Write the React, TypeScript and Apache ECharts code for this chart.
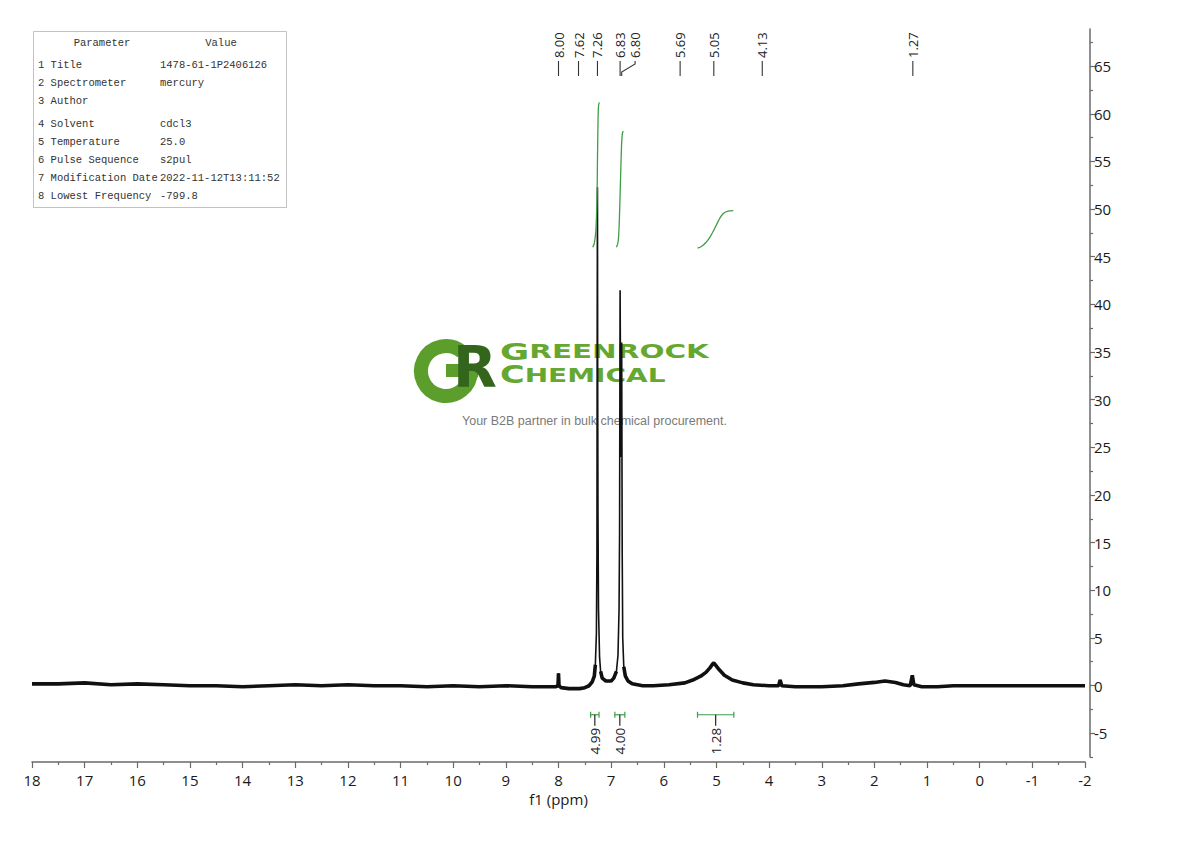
import React, { useEffect, useRef } from "react";
import * as echarts from "echarts";

// ---------- data ----------
const paramNames = [
  "Title",
  "Spectrometer",
  "Author",
  "Solvent",
  "Temperature",
  "Pulse Sequence",
  "Modification Date",
  "Lowest Frequency",
];
const paramValues = [
  "1478-61-1P2406126",
  "mercury",
  "",
  "cdcl3",
  "25.0",
  "s2pul",
  "2022-11-12T13:11:52",
  "-799.8",
];

const peakLabels = [8.0, 7.62, 7.26, 6.83, 6.8, 5.69, 5.05, 4.13, 1.27];

const integralRanges: [number, number][] = [
  [7.39, 7.23],
  [6.93, 6.74],
  [5.36, 4.67],
];
const integralValues = [4.99, 4.0, 1.28];

const integralCurve1: [number, number][] = [
  [7.35, 46.0], [7.32, 46.4], [7.29, 47.8], [7.27, 50.8], [7.26, 55.0],
  [7.25, 59.0], [7.24, 60.8], [7.225, 61.2],
];
const integralCurve2: [number, number][] = [
  [6.9, 46.0], [6.87, 46.5], [6.85, 48.0], [6.83, 51.5], [6.815, 54.5],
  [6.8, 57.0], [6.785, 58.0], [6.77, 58.2],
];
const integralCurve3: [number, number][] = [
  [5.36, 45.9], [5.28, 46.1], [5.2, 46.5], [5.12, 47.1], [5.04, 47.9],
  [4.96, 48.8], [4.88, 49.5], [4.78, 49.8], [4.68, 49.85],
];

// [ppm, intensity]
const spectrum: [number, number][] = [
  [18.0, 0.2], [17.5, 0.2], [17.0, 0.3], [16.5, 0.1], [16.0, 0.2], [15.5, 0.1],
  [15.0, 0.0], [14.5, 0.0], [14.0, -0.1], [13.5, 0.0], [13.0, 0.1], [12.5, 0.0],
  [12.0, 0.1], [11.5, 0.0], [11.0, 0.0], [10.5, -0.1], [10.0, 0.0], [9.5, -0.1],
  [9.0, 0.0], [8.5, -0.1], [8.05, -0.1], [8.01, 0.0], [8.0, 1.3], [7.99, 0.0],
  [7.95, -0.2], [7.8, -0.3], [7.6, -0.3], [7.5, -0.2], [7.42, 0.0], [7.36, 0.4],
  [7.32, 1.0], [7.3, 2.2], [7.28, 5.5], [7.27, 14.0], [7.265, 38.0], [7.26, 52.3],
  [7.255, 30.0], [7.25, 18.0], [7.24, 8.0], [7.22, 3.0], [7.2, 1.5], [7.17, 0.8],
  [7.1, 0.5], [7.0, 0.5], [6.95, 0.8], [6.9, 1.5], [6.87, 3.2], [6.85, 8.0],
  [6.84, 16.0], [6.83, 41.5], [6.815, 24.0], [6.8, 36.0], [6.79, 14.0], [6.78, 5.0],
  [6.76, 2.0], [6.73, 1.0], [6.68, 0.5], [6.6, 0.2], [6.4, 0.0], [6.2, 0.0],
  [5.9, 0.1], [5.6, 0.3], [5.45, 0.6], [5.3, 1.0], [5.2, 1.4], [5.12, 1.9],
  [5.07, 2.3], [5.05, 2.4], [5.02, 2.2], [4.95, 1.7], [4.85, 1.1], [4.7, 0.6],
  [4.5, 0.3], [4.3, 0.1], [4.0, 0.0], [3.82, 0.0], [3.79, 0.6], [3.76, 0.0],
  [3.5, -0.1], [3.0, -0.1], [2.6, 0.0], [2.3, 0.2], [2.0, 0.35], [1.8, 0.5],
  [1.6, 0.35], [1.45, 0.1], [1.32, 0.0], [1.28, 1.1], [1.25, 0.1], [1.1, -0.1],
  [0.8, -0.1], [0.5, 0.0], [0.0, 0.0], [-0.5, 0.0], [-1.0, 0.0], [-1.5, 0.0],
  [-2.0, 0.0],
];

const yTickValues = [-5, 0, 5, 10, 15, 20, 25, 30, 35, 40, 45, 50, 55, 60, 65];
const yMinorTickValues = [
  -7.5, -2.5, 2.5, 7.5, 12.5, 17.5, 22.5, 27.5, 32.5, 37.5, 42.5, 47.5, 52.5,
  57.5, 62.5, 67.5,
];

// ---------- styles ----------
const FONT = "'Open Sans', 'Noto Sans', sans-serif";
const MONO = "'Liberation Mono', 'DejaVu Sans Mono', monospace";
const GREEN = "#3f9d48";
const AXIS = "#6a6a6a";

function buildTable(): any[] {
  const els: any[] = [];
  els.push({
    type: "rect",
    z: 10,
    shape: { x: 33.5, y: 31.5, width: 253, height: 176 },
    style: { fill: "#fff", stroke: "#c2c2c2", lineWidth: 1 },
  });
  const ts = { fontFamily: MONO, fontSize: 10.5, fill: "#333" };
  els.push({
    type: "text", z: 11, x: 102, y: 43,
    style: { ...ts, text: "Parameter", align: "center", verticalAlign: "middle" },
  });
  els.push({
    type: "text", z: 11, x: 221, y: 43,
    style: { ...ts, text: "Value", align: "center", verticalAlign: "middle" },
  });
  paramNames.forEach((n, i) => {
    const y = 65 + i * 18.1 + (i >= 3 ? 4.3 : 0);
    els.push({
      type: "text", z: 11, x: 38, y,
      style: { ...ts, text: `${i + 1} ${n}`, align: "left", verticalAlign: "middle" },
    });
    els.push({
      type: "text", z: 11, x: 160, y,
      style: { ...ts, text: paramValues[i], align: "left", verticalAlign: "middle" },
    });
  });
  return els;
}

function buildLogo(): any[] {
  const g = "#5c9e2c";
  const r = "#33661c";
  const t = "#66a82f";
  const lf = "'DejaVu Sans', sans-serif";
  return [
    {
      type: "arc", z: 0,
      shape: { cx: 446, cy: 371, r: 25, startAngle: 0, endAngle: Math.PI * 1.72, clockwise: true },
      style: { stroke: g, lineWidth: 14, fill: null },
    },
    {
      type: "rect", z: 0,
      shape: { x: 446, y: 364, width: 32, height: 13 },
      style: { fill: g },
    },
    {
      type: "text", z: 1, x: 453, y: 338,
      style: { text: "R", fontFamily: lf, fontWeight: "bold", fontSize: 57, fill: r, align: "left", verticalAlign: "top" },
    },
    {
      type: "text", z: 1, x: 500, y: 363, scaleX: 1.55,
      style: {
        text: "{a|G}{b|REENROCK}",
        align: "left", verticalAlign: "bottom",
        rich: {
          a: { fontFamily: lf, fontWeight: "bold", fontSize: 23, fill: t },
          b: { fontFamily: lf, fontWeight: "bold", fontSize: 19, fill: t },
        },
      },
    },
    {
      type: "text", z: 1, x: 500, y: 387, scaleX: 1.4,
      style: {
        text: "{a|C}{b|HEMICAL}",
        align: "left", verticalAlign: "bottom",
        rich: {
          a: { fontFamily: lf, fontWeight: "bold", fontSize: 24, fill: t },
          b: { fontFamily: lf, fontWeight: "bold", fontSize: 20, fill: t },
        },
      },
    },
    {
      type: "text", z: 1, x: 594.5, y: 421,
      style: {
        text: "Your B2B partner in bulk chemical procurement.",
        fontFamily: "'Liberation Sans', Arial, sans-serif", fontSize: 12.5,
        fill: "#7a7a7a", align: "center", verticalAlign: "middle",
      },
    },
  ];
}

export default function App() {
  const ref = useRef<HTMLDivElement>(null);

  useEffect(() => {
    if (!ref.current) return;
    const chart = echarts.init(ref.current, null, { renderer: "svg" });

    const baseline = spectrum.map(([x, y]) => [x, y > 2.5 ? "-" : y]);

    const option: any = {
      animation: false,
      backgroundColor: "#ffffff",
      grid: [
        { left: 32, right: 105, top: 29, bottom: 79 },
        { left: 32, right: 100, top: 29, bottom: 84 },
        { left: 1090, width: 1, top: 29, bottom: 84 },
      ],
      xAxis: [
        {
          gridIndex: 0,
          type: "value",
          inverse: true,
          min: -2,
          max: 18,
          interval: 1,
          axisLine: { show: true, onZero: false, lineStyle: { color: AXIS, width: 1.5 } },
          axisTick: { show: true, length: 6, lineStyle: { color: AXIS, width: 1.2 } },
          minorTick: { show: true, splitNumber: 2, length: 3, lineStyle: { color: AXIS, width: 1.2 } },
          axisLabel: { fontSize: 15, color: "#1a1a1a", margin: 10, fontFamily: FONT },
          splitLine: { show: false },
          minorSplitLine: { show: false },
          name: "f1 (ppm)",
          nameLocation: "middle",
          nameGap: 28,
          nameTextStyle: { fontSize: 15, color: "#1a1a1a", fontFamily: FONT },
        },
        { gridIndex: 1, type: "value", min: 0, max: 1, show: false },
        { gridIndex: 2, type: "value", min: 0, max: 1, show: false },
      ],
      yAxis: [
        { gridIndex: 0, type: "value", min: -8, max: 68.9, show: false },
        {
          gridIndex: 1,
          type: "value",
          position: "right",
          min: -7.5,
          max: 68.9,
          axisLine: { show: true, onZero: false, lineStyle: { color: AXIS, width: 1.5 } },
          axisTick: { show: true, length: 5, customValues: yTickValues, lineStyle: { color: AXIS, width: 1.2 } },
          axisLabel: { show: true, customValues: yTickValues, fontSize: 15, color: "#1a1a1a", margin: 4, fontFamily: FONT },
          splitLine: { show: false },
        },
        {
          gridIndex: 2,
          type: "value",
          position: "left",
          min: -7.5,
          max: 68.9,
          axisLine: { show: false, onZero: false },
          axisTick: { show: true, inside: true, length: 3, customValues: yMinorTickValues, lineStyle: { color: AXIS, width: 1.2 } },
          axisLabel: { show: false },
          splitLine: { show: false },
        },
      ],
      graphic: [...buildLogo(), ...buildTable()],
      series: [
        {
          type: "line",
          xAxisIndex: 0,
          yAxisIndex: 0,
          data: baseline,
          showSymbol: false,
          z: 5,
          silent: true,
          lineStyle: { color: "#111", width: 3.6 },
        },
        {
          type: "line",
          xAxisIndex: 0,
          yAxisIndex: 0,
          data: spectrum,
          showSymbol: false,
          z: 6,
          silent: true,
          lineStyle: { color: "#111", width: 1.6 },
        },
        ...[integralCurve1, integralCurve2, integralCurve3].map((c) => ({
          type: "line",
          xAxisIndex: 0,
          yAxisIndex: 0,
          data: c,
          smooth: 0.35,
          showSymbol: false,
          z: 7,
          silent: true,
          lineStyle: { color: GREEN, width: 1.3 },
        })),
        {
          type: "custom",
          xAxisIndex: 0,
          yAxisIndex: 0,
          silent: true,
          z: 8,
          data: peakLabels.map((p) => [p, 0]),
          renderItem: (params: any, api: any) => {
            const i = params.dataIndex;
            const xs = peakLabels.map((p) => api.coord([p, 0])[0]);
            const lx: number[] = [];
            xs.forEach((v, k) => {
              let pos = v;
              if (k > 0 && pos - lx[k - 1] < 14) pos = lx[k - 1] + 15;
              lx.push(pos);
            });
            const px = xs[i];
            const tx = lx[i];
            return {
              type: "group",
              children: [
                {
                  type: "text",
                  x: tx,
                  y: 58,
                  rotation: Math.PI / 2,
                  style: {
                    text: peakLabels[i].toFixed(2),
                    align: "left",
                    verticalAlign: "middle",
                    fontSize: 13,
                    fontFamily: FONT,
                    fill: "#222",
                  },
                },
                {
                  type: "polyline",
                  shape: { points: [[tx, 61], [tx, 64], [px, 72], [px, 76]] },
                  style: { stroke: "#333", lineWidth: 1.1, fill: null },
                },
              ],
            };
          },
        },
        {
          type: "custom",
          xAxisIndex: 0,
          yAxisIndex: 0,
          silent: true,
          z: 8,
          data: integralRanges.map((r, i) => [r[0], r[1], integralValues[i]]),
          encode: { x: [0, 1] },
          renderItem: (params: any, api: any) => {
            const x1 = api.coord([api.value(0), 0])[0];
            const x2 = api.coord([api.value(1), 0])[0];
            const y0 = api.coord([0, 0])[1];
            const by = y0 + 29;
            const cx = (x1 + x2) / 2;
            const gs = { stroke: GREEN, lineWidth: 1.2 };
            return {
              type: "group",
              children: [
                { type: "line", shape: { x1, y1: by, x2, y2: by }, style: gs },
                { type: "line", shape: { x1, y1: by - 3, x2: x1, y2: by + 3 }, style: gs },
                { type: "line", shape: { x1: x2, y1: by - 3, x2, y2: by + 3 }, style: gs },
                { type: "line", shape: { x1: cx, y1: by, x2: cx, y2: by + 11 }, style: { stroke: "#222", lineWidth: 1.2 } },
                {
                  type: "text",
                  x: cx,
                  y: by + 13,
                  rotation: Math.PI / 2,
                  style: {
                    text: Number(api.value(2)).toFixed(2),
                    align: "right",
                    verticalAlign: "middle",
                    fontSize: 13.5,
                    fontFamily: FONT,
                    fill: "#222",
                  },
                },
              ],
            };
          },
        },
      ],
    };

    chart.setOption(option);
    return () => chart.dispose();
  }, []);

  return (
    <div
      ref={ref}
      style={{ position: "fixed", left: 0, top: 0, width: 1190, height: 841, background: "#fff" }}
    />
  );
}
